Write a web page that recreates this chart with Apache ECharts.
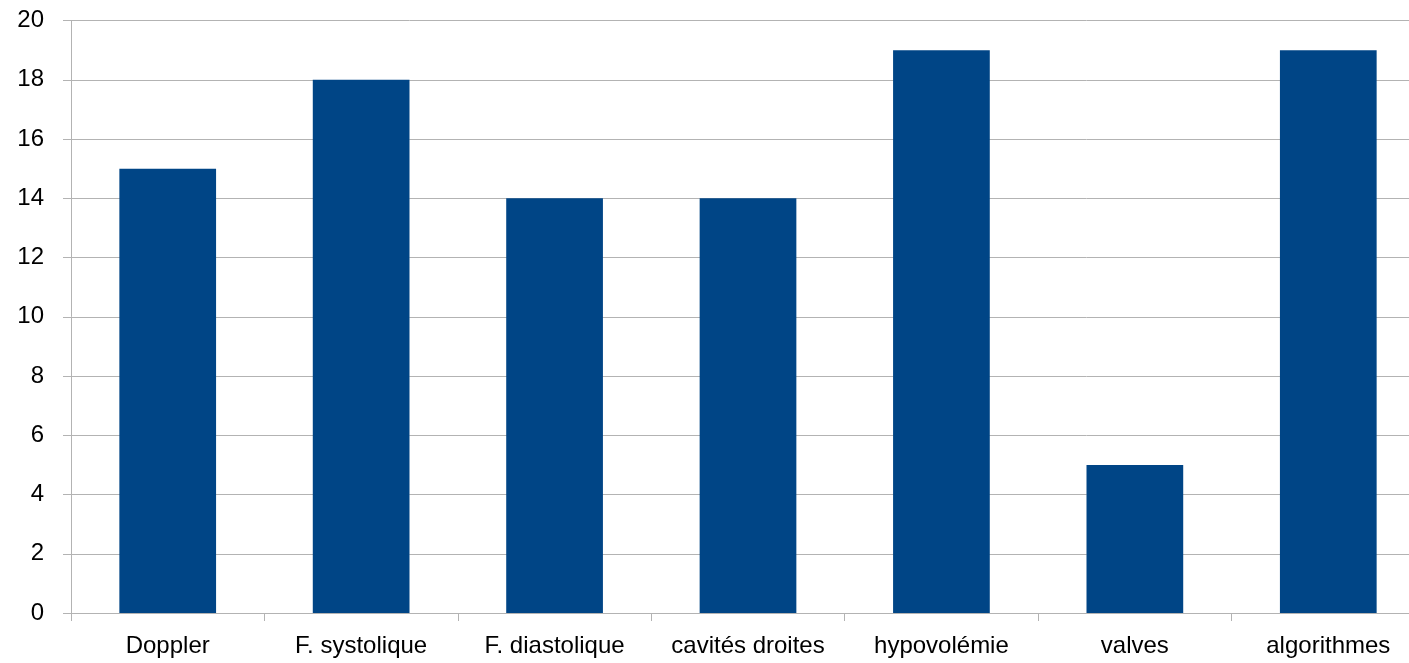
<!DOCTYPE html>
<html>
<head>
<meta charset="utf-8">
<script src="https://cdn.jsdelivr.net/npm/echarts@6/dist/echarts.min.js"></script>
<style>
  html, body { margin: 0; padding: 0; background: #fff; overflow: hidden; width: 1409px; height: 663px; }
  /* the plot area runs slightly past the right edge of the page */
  #chart { width: 1440px; height: 663px; }
</style>
</head>
<body>
<div id="chart"></div>
<script>
// Categories and counts
const categories = ['Doppler', 'F. systolique', 'F. diastolique', 'cavités droites', 'hypovolémie', 'valves', 'algorithmes'];
const counts = [15, 18, 14, 14, 19, 5, 19];
const yMin = 0, yMax = 20, yStep = 2;

const gridColor = '#b3b3b3';
const font = '"Liberation Sans", Arial, sans-serif';

const chart = echarts.init(document.getElementById('chart'), null, { renderer: 'canvas' });
chart.setOption({
  animation: false,
  grid: { left: 71, width: 1354, top: 20.5, bottom: 50, containLabel: false },
  xAxis: {
    type: 'category',
    data: categories,
    boundaryGap: true,
    axisLine: { show: true, lineStyle: { color: gridColor, width: 1 } },
    axisTick: { show: true, length: 8, alignWithLabel: false, lineStyle: { color: gridColor } },
    axisLabel: { color: '#000', fontFamily: font, fontSize: 24, margin: 21, interval: 0 },
    splitLine: { show: false }
  },
  yAxis: {
    type: 'value',
    min: yMin, max: yMax, interval: yStep,
    axisLine: { show: true, lineStyle: { color: gridColor, width: 1 } },
    axisTick: { show: true, length: 8, lineStyle: { color: gridColor } },
    axisLabel: { color: '#000', fontFamily: font, fontSize: 24, margin: 27 },
    splitLine: { show: true, lineStyle: { color: gridColor, width: 1 } }
  },
  series: [{
    type: 'bar',
    data: counts,
    barWidth: '50%',
    itemStyle: { color: '#004586' }
  }]
});
</script>
</body>
</html>
